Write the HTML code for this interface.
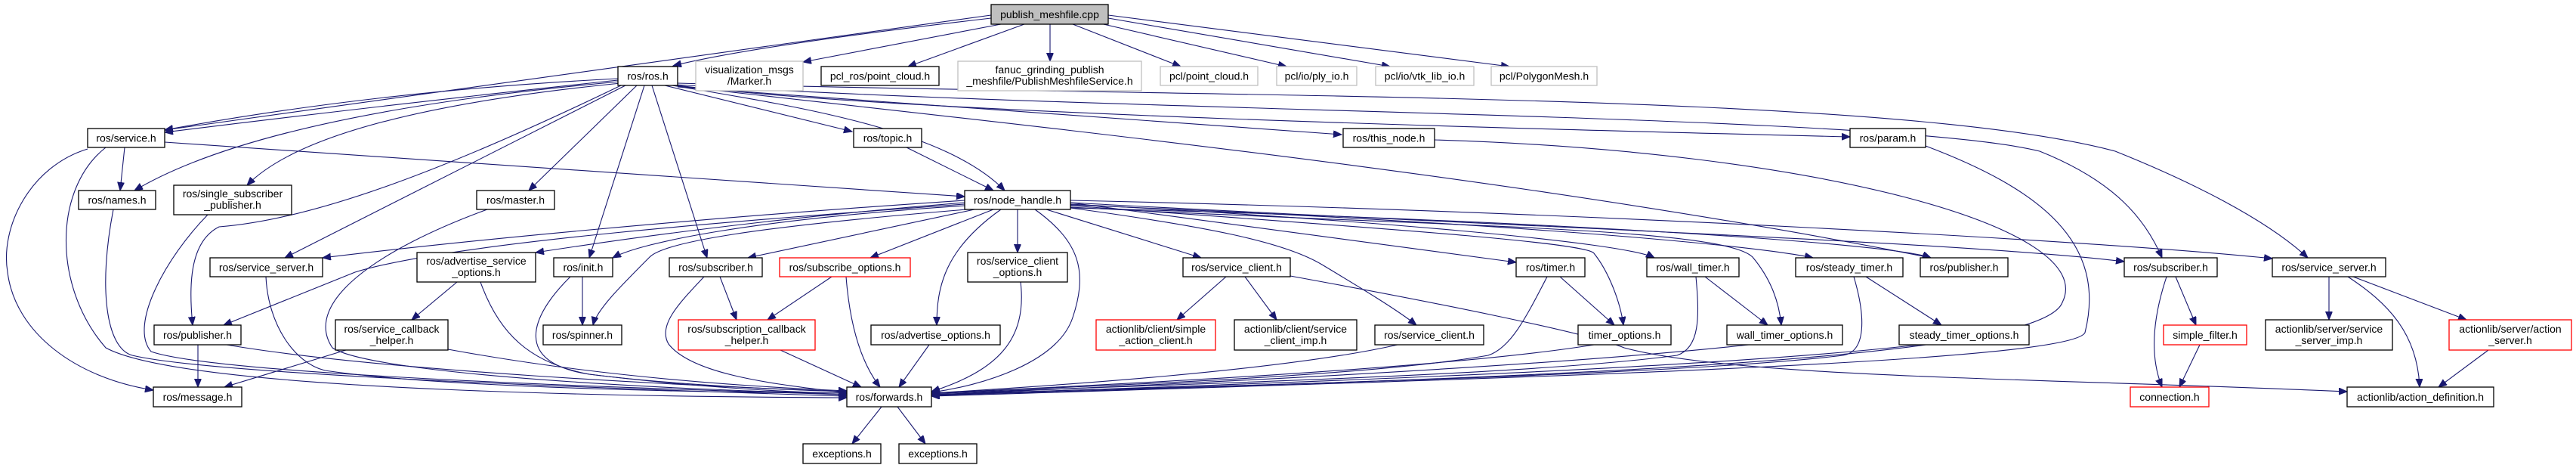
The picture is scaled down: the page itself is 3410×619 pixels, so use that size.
<!DOCTYPE html>
<html><head><meta charset="utf-8"><style>
html,body{margin:0;padding:0;background:#fff;}
svg{display:block;}
text{font-family:"Liberation Sans",sans-serif;font-size:14px;fill:#000;text-anchor:middle;}
.e{fill:none;stroke:#191970;stroke-width:1.1;marker-end:url(#a);}
.n{fill:#fff;stroke:#000;stroke-width:1.3;}
.g{fill:#fff;stroke:#bfbfbf;stroke-width:1.3;}
.r{fill:#fff;stroke:#ff0000;stroke-width:1.3;}
</style></head><body>
<svg width="3410" height="619" viewBox="0 0 3410 619" xmlns="http://www.w3.org/2000/svg">
<defs><marker id="a" markerUnits="userSpaceOnUse" markerWidth="12" markerHeight="10" refX="11" refY="4.5" orient="auto"><path d="M0,0 L11,4.5 L0,9 Z" fill="#191970" stroke="#191970"/></marker></defs>
<g>
<path class="e" d="M1312,24 Q1000,60 891,87"/>
<path class="e" d="M1312,20 L218,172"/>
<path class="e" d="M1325,32 L1063,82"/>
<path class="e" d="M1356,32 L1202,88"/>
<path class="e" d="M1390,32 L1390,81"/>
<path class="e" d="M1420,32 L1563,88"/>
<path class="e" d="M1452,30 L1703,88"/>
<path class="e" d="M1467,24 L1840,88"/>
<path class="e" d="M1467,20 L1998,88"/>
<path class="e" d="M818,104 Q500,120 218,172"/>
<path class="e" d="M818,106 Q500,140 218,175"/>
<path class="e" d="M820,108 Q350,150 178,252"/>
<path class="e" d="M822,110 Q420,150 327,245"/>
<path class="e" d="M822,113 C600,220 420,290 290,300 C250,320 250,380 255,430"/>
<path class="e" d="M828,113 L377,341"/>
<path class="e" d="M843,113 L700,252"/>
<path class="e" d="M853,113 L780,341"/>
<path class="e" d="M863,113 L936,341"/>
<path class="e" d="M880,113 L1128,174"/>
<path class="e" d="M890,113 C1050,140 1250,170 1330,252"/>
<path class="e" d="M897,115 L1776,178"/>
<path class="e" d="M897,113 C1200,150 2000,170 2449,181"/>
<path class="e" d="M890,113 C1300,160 2000,230 2556,341"/>
<path class="e" d="M895,112 C1500,150 2500,150 2700,200 C2800,240 2840,290 2862,341"/>
<path class="e" d="M897,110 C1600,130 2500,120 2800,200 C2900,240 3000,290 3055,341"/>
<path class="e" d="M1899,185 C2400,200 2780,300 2730,400 C2700,480 2000,500 1233,523"/>
<path class="e" d="M2549,193 C2700,250 2790,320 2760,440 C2740,480 2000,500 1233,524"/>
<path class="e" d="M165,195 L159,252"/>
<path class="e" d="M116,197 C40,220 0,300 10,360 C20,440 100,500 203,516"/>
<path class="e" d="M140,195 C70,250 70,380 140,460 C250,520 900,525 1121,526"/>
<path class="e" d="M218,188 L1277,260"/>
<path class="e" d="M150,277 C130,380 140,460 175,470 C300,500 1000,520 1121,524"/>
<path class="e" d="M275,284 C220,340 170,430 200,465 C300,500 1000,518 1121,522"/>
<path class="e" d="M645,277 C500,330 400,400 440,460 C500,500 1000,520 1121,520"/>
<path class="e" d="M1200,195 L1315,252"/>
<path class="e" d="M1277,265 C900,290 600,320 427,341"/>
<path class="e" d="M1277,268 C1000,290 800,320 709,334"/>
<path class="e" d="M1277,272 C1000,290 850,320 811,341"/>
<path class="e" d="M1280,277 C1000,300 880,320 860,340 C820,380 790,410 785,430"/>
<path class="e" d="M1277,270 C1000,290 600,320 470,360 L296,430"/>
<path class="e" d="M1290,277 L990,341"/>
<path class="e" d="M1315,277 L1152,341"/>
<path class="e" d="M1325,277 C1250,330 1240,380 1240,430"/>
<path class="e" d="M1347,277 L1347,334"/>
<path class="e" d="M1370,277 C1430,320 1440,360 1420,420 C1400,480 1300,510 1233,519"/>
<path class="e" d="M1385,277 L1590,341"/>
<path class="e" d="M1417,268 L2007,347"/>
<path class="e" d="M1417,272 C1800,300 2100,320 2110,335 C2130,360 2145,400 2149,430"/>
<path class="e" d="M1417,270 C1800,290 2150,320 2190,341"/>
<path class="e" d="M1417,274 C1900,300 2280,300 2320,340 C2345,370 2355,400 2358,430"/>
<path class="e" d="M1417,271 C1900,290 2300,320 2400,341"/>
<path class="e" d="M1417,275 C2000,290 2500,320 2556,341"/>
<path class="e" d="M1417,268 C2000,300 2600,320 2812,346"/>
<path class="e" d="M1417,265 C2100,280 2800,320 3008,342"/>
<path class="e" d="M1417,275 C1600,300 1700,320 1750,350 C1800,380 1850,410 1875,430"/>
<path class="e" d="M352,366 C355,430 390,480 430,490 C600,515 1000,520 1121,520"/>
<path class="e" d="M605,373 L545,423"/>
<path class="e" d="M636,373 C660,440 700,480 780,495 C900,510 1050,520 1121,520"/>
<path class="e" d="M771,366 L771,430"/>
<path class="e" d="M755,366 C700,420 680,480 780,495 C900,510 1050,516 1121,518"/>
<path class="e" d="M262,456 L262,512"/>
<path class="e" d="M300,456 C500,490 900,510 1121,518"/>
<path class="e" d="M458,463 L297,512"/>
<path class="e" d="M593,462 C800,500 1000,512 1121,517"/>
<path class="e" d="M953,366 L975,423"/>
<path class="e" d="M932,366 C900,400 870,430 885,455 C920,500 1050,510 1121,520"/>
<path class="e" d="M1101,366 L1016,423"/>
<path class="e" d="M1120,366 C1125,430 1140,480 1165,512"/>
<path class="e" d="M1033,463 L1140,512"/>
<path class="e" d="M1351,373 C1360,450 1320,490 1233,518"/>
<path class="e" d="M1230,456 L1190,512"/>
<path class="e" d="M1623,366 L1558,423"/>
<path class="e" d="M1648,366 L1690,423"/>
<path class="e" d="M1708,365 C1900,400 2100,440 2150,460 C2300,500 2700,500 3107,518"/>
<path class="e" d="M1850,456 C1700,490 1400,510 1233,520"/>
<path class="e" d="M2065,366 L2137,430"/>
<path class="e" d="M2048,366 C2020,420 2000,460 1970,470 C1800,500 1400,512 1233,520"/>
<path class="e" d="M2110,456 C1900,490 1400,512 1233,520"/>
<path class="e" d="M2257,366 L2340,430"/>
<path class="e" d="M2245,366 C2250,420 2250,460 2220,470 C2000,500 1400,512 1233,521"/>
<path class="e" d="M2315,456 C2000,490 1400,515 1233,522"/>
<path class="e" d="M2470,366 L2570,430"/>
<path class="e" d="M2454,366 C2470,420 2470,465 2440,470 C2200,500 1400,515 1233,522"/>
<path class="e" d="M2540,456 C2200,495 1400,515 1233,523"/>
<path class="e" d="M2868,366 C2850,420 2845,470 2862,512"/>
<path class="e" d="M2880,366 L2907,430"/>
<path class="e" d="M2912,456 L2885,512"/>
<path class="e" d="M3083,366 L3083,423"/>
<path class="e" d="M3108,366 C3160,400 3200,440 3203,512"/>
<path class="e" d="M3115,366 L3265,423"/>
<path class="e" d="M3294,463 L3228,512"/>
<path class="e" d="M1167,538 L1128,587"/>
<path class="e" d="M1188,538 L1225,587"/>
</g>
<g>
<rect x="1312" y="6" width="155" height="26" fill="#bfbfbf" stroke="#000" stroke-width="1.3"/><text x="1389.5" y="24">publish_meshfile.cpp</text>
<rect class="n" x="818" y="88" width="79" height="25"/><text x="857.5" y="105.5">ros/ros.h</text>
<rect class="g" x="921" y="81" width="142" height="39"/><text x="992" y="97">visualization_msgs</text><text x="992" y="112">/Marker.h</text>
<rect class="n" x="1087" y="88" width="156" height="25"/><text x="1165" y="105.5">pcl_ros/point_cloud.h</text>
<rect class="g" x="1268" y="81" width="243" height="39"/><text x="1389.5" y="97">fanuc_grinding_publish</text><text x="1389.5" y="112">_meshfile/PublishMeshfileService.h</text>
<rect class="g" x="1536" y="88" width="129" height="25"/><text x="1600.5" y="105.5">pcl/point_cloud.h</text>
<rect class="g" x="1690" y="88" width="106" height="25"/><text x="1743" y="105.5">pcl/io/ply_io.h</text>
<rect class="g" x="1821" y="88" width="130" height="25"/><text x="1886" y="105.5">pcl/io/vtk_lib_io.h</text>
<rect class="g" x="1974" y="88" width="140" height="25"/><text x="2044" y="105.5">pcl/PolygonMesh.h</text>
<rect class="n" x="116" y="170" width="102" height="25"/><text x="167" y="187.5">ros/service.h</text>
<rect class="n" x="1130" y="170" width="90" height="25"/><text x="1175" y="187.5">ros/topic.h</text>
<rect class="n" x="1778" y="170" width="121" height="25"/><text x="1838.5" y="187.5">ros/this_node.h</text>
<rect class="n" x="2449" y="170" width="100" height="25"/><text x="2499" y="187.5">ros/param.h</text>
<rect class="n" x="104" y="252" width="102" height="25"/><text x="155" y="269.5">ros/names.h</text>
<rect class="n" x="230" y="245" width="156" height="39"/><text x="308" y="261">ros/single_subscriber</text><text x="308" y="276">_publisher.h</text>
<rect class="n" x="631" y="252" width="103" height="25"/><text x="682.5" y="269.5">ros/master.h</text>
<rect class="n" x="1277" y="252" width="140" height="25"/><text x="1347" y="269.5">ros/node_handle.h</text>
<rect class="n" x="278" y="341" width="149" height="25"/><text x="352.5" y="358.5">ros/service_server.h</text>
<rect class="n" x="552" y="334" width="157" height="39"/><text x="630.5" y="350">ros/advertise_service</text><text x="630.5" y="365">_options.h</text>
<rect class="n" x="733" y="341" width="78" height="25"/><text x="772" y="358.5">ros/init.h</text>
<rect class="n" x="886" y="341" width="123" height="25"/><text x="947.5" y="358.5">ros/subscriber.h</text>
<rect class="r" x="1032" y="341" width="173" height="25"/><text x="1118.5" y="358.5">ros/subscribe_options.h</text>
<rect class="n" x="1281" y="334" width="132" height="39"/><text x="1347" y="350">ros/service_client</text><text x="1347" y="365">_options.h</text>
<rect class="n" x="1566" y="341" width="142" height="25"/><text x="1637" y="358.5">ros/service_client.h</text>
<rect class="n" x="2007" y="341" width="91" height="25"/><text x="2052.5" y="358.5">ros/timer.h</text>
<rect class="n" x="2180" y="341" width="122" height="25"/><text x="2241" y="358.5">ros/wall_timer.h</text>
<rect class="n" x="2377" y="341" width="142" height="25"/><text x="2448" y="358.5">ros/steady_timer.h</text>
<rect class="n" x="2542" y="341" width="116" height="25"/><text x="2600" y="358.5">ros/publisher.h</text>
<rect class="n" x="2812" y="341" width="123" height="25"/><text x="2873.5" y="358.5">ros/subscriber.h</text>
<rect class="n" x="3008" y="341" width="150" height="25"/><text x="3083" y="358.5">ros/service_server.h</text>
<rect class="n" x="204" y="430" width="115" height="26"/><text x="261.5" y="448">ros/publisher.h</text>
<rect class="n" x="444" y="423" width="149" height="40"/><text x="518.5" y="440">ros/service_callback</text><text x="518.5" y="455">_helper.h</text>
<rect class="n" x="719" y="430" width="104" height="26"/><text x="771" y="448">ros/spinner.h</text>
<rect class="r" x="898" y="423" width="181" height="40"/><text x="988.5" y="440">ros/subscription_callback</text><text x="988.5" y="455">_helper.h</text>
<rect class="n" x="1153" y="430" width="171" height="26"/><text x="1238.5" y="448">ros/advertise_options.h</text>
<rect class="r" x="1451" y="423" width="158" height="40"/><text x="1530" y="440">actionlib/client/simple</text><text x="1530" y="455">_action_client.h</text>
<rect class="n" x="1634" y="423" width="162" height="40"/><text x="1715" y="440">actionlib/client/service</text><text x="1715" y="455">_client_imp.h</text>
<rect class="n" x="1820" y="430" width="144" height="26"/><text x="1892" y="448">ros/service_client.h</text>
<rect class="n" x="2089" y="430" width="123" height="26"/><text x="2150.5" y="448">timer_options.h</text>
<rect class="n" x="2286" y="430" width="153" height="26"/><text x="2362.5" y="448">wall_timer_options.h</text>
<rect class="n" x="2514" y="430" width="172" height="26"/><text x="2600" y="448">steady_timer_options.h</text>
<rect class="r" x="2864" y="430" width="110" height="26"/><text x="2919" y="448">simple_filter.h</text>
<rect class="n" x="2999" y="423" width="168" height="40"/><text x="3083" y="440">actionlib/server/service</text><text x="3083" y="455">_server_imp.h</text>
<rect class="r" x="3242" y="423" width="162" height="40"/><text x="3323" y="440">actionlib/server/action</text><text x="3323" y="455">_server.h</text>
<rect class="n" x="203" y="512" width="117" height="26"/><text x="261.5" y="530">ros/message.h</text>
<rect class="n" x="1121" y="512" width="112" height="26"/><text x="1177" y="530">ros/forwards.h</text>
<rect class="r" x="2820" y="512" width="104" height="26"/><text x="2872" y="530">connection.h</text>
<rect class="n" x="3107" y="512" width="194" height="26"/><text x="3204" y="530">actionlib/action_definition.h</text>
<rect class="n" x="1063" y="587" width="103" height="26"/><text x="1114.5" y="605">exceptions.h</text>
<rect class="n" x="1190" y="587" width="103" height="26"/><text x="1241.5" y="605">exceptions.h</text>
</g>
</svg>
</body></html>
